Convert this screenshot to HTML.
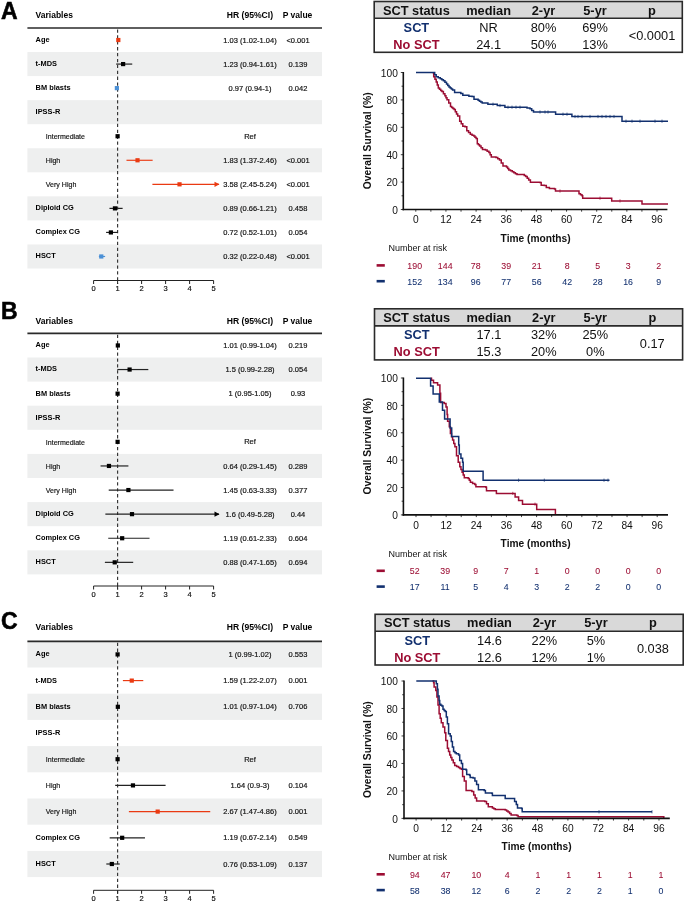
<!DOCTYPE html>
<html><head><meta charset="utf-8"><style>
html,body{margin:0;padding:0;background:#fff;width:685px;height:901px;overflow:hidden;position:relative;font-family:"Liberation Sans", sans-serif;}
</style></head><body>
<svg width="685" height="901" viewBox="0 0 685 901" style="position:absolute;left:0;top:0;will-change:transform;font-family:'Liberation Sans', sans-serif">
<rect width="685" height="901" fill="#fff"/>
<text x="0.90" y="19.10" font-size="23" font-weight="bold" text-anchor="start" fill="#000" stroke="#000" stroke-width="0.55">A</text>
<rect x="27.4" y="52.05" width="294.6" height="24.05" fill="#eeefef"/>
<rect x="27.4" y="100.15" width="294.6" height="24.05" fill="#eeefef"/>
<rect x="27.4" y="148.25" width="294.6" height="24.05" fill="#eeefef"/>
<rect x="27.4" y="196.35" width="294.6" height="24.05" fill="#eeefef"/>
<rect x="27.4" y="244.45" width="294.6" height="24.05" fill="#eeefef"/>
<text x="35.60" y="18.30" font-size="8.5" font-weight="bold" text-anchor="start" fill="#000" >Variables</text>
<text x="249.90" y="18.30" font-size="8.6" font-weight="bold" text-anchor="middle" fill="#000" >HR (95%CI)</text>
<text x="297.50" y="18.30" font-size="8.5" font-weight="bold" text-anchor="middle" fill="#000" >P value</text>
<line x1="27.4" y1="28.00" x2="322" y2="28.00" stroke="#2a2a2a" stroke-width="1.7"/>
<line x1="117.6" y1="29.40" x2="117.6" y2="284.00" stroke="#333" stroke-width="1.15" stroke-dasharray="3.3,2.6"/>
<text x="35.60" y="41.92" font-size="7.4" font-weight="bold" text-anchor="start" fill="#000" >Age</text>
<text x="250.00" y="42.62" font-size="7.5" font-weight="normal" text-anchor="middle" fill="#111" stroke="#111" stroke-width="0.18">1.03 (1.02-1.04)</text>
<text x="298.00" y="42.62" font-size="7.5" font-weight="normal" text-anchor="middle" fill="#111" stroke="#111" stroke-width="0.18">&lt;0.001</text>
<line x1="118.08" y1="40.02" x2="118.56" y2="40.02" stroke="#ea3a12" stroke-width="1.15"/>
<rect x="116.22" y="37.92" width="4.2" height="4.2" fill="#ea3a12"/>
<text x="35.60" y="65.98" font-size="7.4" font-weight="bold" text-anchor="start" fill="#000" >t-MDS</text>
<text x="250.00" y="66.67" font-size="7.5" font-weight="normal" text-anchor="middle" fill="#111" stroke="#111" stroke-width="0.18">1.23 (0.94-1.61)</text>
<text x="298.00" y="66.67" font-size="7.5" font-weight="normal" text-anchor="middle" fill="#111" stroke="#111" stroke-width="0.18">0.139</text>
<line x1="116.16" y1="64.08" x2="132.24" y2="64.08" stroke="#222" stroke-width="1.2"/>
<rect x="121.02" y="61.98" width="4.2" height="4.2" fill="#000"/>
<text x="35.60" y="90.03" font-size="7.4" font-weight="bold" text-anchor="start" fill="#000" >BM blasts</text>
<text x="250.00" y="90.72" font-size="7.5" font-weight="normal" text-anchor="middle" fill="#111" stroke="#111" stroke-width="0.18">0.97 (0.94-1)</text>
<text x="298.00" y="90.72" font-size="7.5" font-weight="normal" text-anchor="middle" fill="#111" stroke="#111" stroke-width="0.18">0.042</text>
<line x1="116.16" y1="88.12" x2="117.60" y2="88.12" stroke="#4b90d6" stroke-width="1.15"/>
<rect x="114.78" y="86.03" width="4.2" height="4.2" fill="#4b90d6"/>
<text x="35.60" y="114.08" font-size="7.4" font-weight="bold" text-anchor="start" fill="#000" >IPSS-R</text>
<text x="45.80" y="139.03" font-size="7.05" font-weight="normal" text-anchor="start" fill="#111" stroke="#111" stroke-width="0.15">Intermediate</text>
<text x="250.00" y="138.83" font-size="7.5" font-weight="normal" text-anchor="middle" fill="#111" stroke="#111" stroke-width="0.18">Ref</text>
<rect x="115.50" y="134.13" width="4.2" height="4.2" fill="#000"/>
<text x="45.80" y="163.08" font-size="7.05" font-weight="normal" text-anchor="start" fill="#111" stroke="#111" stroke-width="0.15">High</text>
<text x="250.00" y="162.88" font-size="7.5" font-weight="normal" text-anchor="middle" fill="#111" stroke="#111" stroke-width="0.18">1.83 (1.37-2.46)</text>
<text x="298.00" y="162.88" font-size="7.5" font-weight="normal" text-anchor="middle" fill="#111" stroke="#111" stroke-width="0.18">&lt;0.001</text>
<line x1="126.48" y1="160.28" x2="152.64" y2="160.28" stroke="#ea3a12" stroke-width="1.15"/>
<rect x="135.42" y="158.18" width="4.2" height="4.2" fill="#ea3a12"/>
<text x="45.80" y="187.13" font-size="7.05" font-weight="normal" text-anchor="start" fill="#111" stroke="#111" stroke-width="0.15">Very High</text>
<text x="250.00" y="186.93" font-size="7.5" font-weight="normal" text-anchor="middle" fill="#111" stroke="#111" stroke-width="0.18">3.58 (2.45-5.24)</text>
<text x="298.00" y="186.93" font-size="7.5" font-weight="normal" text-anchor="middle" fill="#111" stroke="#111" stroke-width="0.18">&lt;0.001</text>
<line x1="152.40" y1="184.33" x2="219.00" y2="184.33" stroke="#ea3a12" stroke-width="1.15"/>
<path d="M219.50,184.33 L214.50,181.73 L214.50,186.93 Z" fill="#ea3a12"/>
<rect x="177.42" y="182.23" width="4.2" height="4.2" fill="#ea3a12"/>
<text x="35.60" y="210.28" font-size="7.4" font-weight="bold" text-anchor="start" fill="#000" >Diploid CG</text>
<text x="250.00" y="210.97" font-size="7.5" font-weight="normal" text-anchor="middle" fill="#111" stroke="#111" stroke-width="0.18">0.89 (0.66-1.21)</text>
<text x="298.00" y="210.97" font-size="7.5" font-weight="normal" text-anchor="middle" fill="#111" stroke="#111" stroke-width="0.18">0.458</text>
<line x1="109.44" y1="208.38" x2="122.64" y2="208.38" stroke="#222" stroke-width="1.2"/>
<rect x="112.86" y="206.28" width="4.2" height="4.2" fill="#000"/>
<text x="35.60" y="234.33" font-size="7.4" font-weight="bold" text-anchor="start" fill="#000" >Complex CG</text>
<text x="250.00" y="235.03" font-size="7.5" font-weight="normal" text-anchor="middle" fill="#111" stroke="#111" stroke-width="0.18">0.72 (0.52-1.01)</text>
<text x="298.00" y="235.03" font-size="7.5" font-weight="normal" text-anchor="middle" fill="#111" stroke="#111" stroke-width="0.18">0.054</text>
<line x1="106.08" y1="232.43" x2="117.84" y2="232.43" stroke="#222" stroke-width="1.2"/>
<rect x="108.78" y="230.33" width="4.2" height="4.2" fill="#000"/>
<text x="35.60" y="258.38" font-size="7.4" font-weight="bold" text-anchor="start" fill="#000" >HSCT</text>
<text x="250.00" y="259.08" font-size="7.5" font-weight="normal" text-anchor="middle" fill="#111" stroke="#111" stroke-width="0.18">0.32 (0.22-0.48)</text>
<text x="298.00" y="259.08" font-size="7.5" font-weight="normal" text-anchor="middle" fill="#111" stroke="#111" stroke-width="0.18">&lt;0.001</text>
<line x1="98.88" y1="256.48" x2="105.12" y2="256.48" stroke="#4b90d6" stroke-width="1.15"/>
<rect x="99.18" y="254.38" width="4.2" height="4.2" fill="#4b90d6"/>
<line x1="93.60" y1="280.50" x2="213.60" y2="280.50" stroke="#222" stroke-width="1"/>
<line x1="93.60" y1="280.50" x2="93.60" y2="284.00" stroke="#222" stroke-width="1"/>
<text x="93.60" y="291.00" font-size="7.5" font-weight="normal" text-anchor="middle" fill="#111" stroke="#111" stroke-width="0.18">0</text>
<line x1="117.60" y1="280.50" x2="117.60" y2="284.00" stroke="#222" stroke-width="1"/>
<text x="117.60" y="291.00" font-size="7.5" font-weight="normal" text-anchor="middle" fill="#111" stroke="#111" stroke-width="0.18">1</text>
<line x1="141.60" y1="280.50" x2="141.60" y2="284.00" stroke="#222" stroke-width="1"/>
<text x="141.60" y="291.00" font-size="7.5" font-weight="normal" text-anchor="middle" fill="#111" stroke="#111" stroke-width="0.18">2</text>
<line x1="165.60" y1="280.50" x2="165.60" y2="284.00" stroke="#222" stroke-width="1"/>
<text x="165.60" y="291.00" font-size="7.5" font-weight="normal" text-anchor="middle" fill="#111" stroke="#111" stroke-width="0.18">3</text>
<line x1="189.60" y1="280.50" x2="189.60" y2="284.00" stroke="#222" stroke-width="1"/>
<text x="189.60" y="291.00" font-size="7.5" font-weight="normal" text-anchor="middle" fill="#111" stroke="#111" stroke-width="0.18">4</text>
<line x1="213.60" y1="280.50" x2="213.60" y2="284.00" stroke="#222" stroke-width="1"/>
<text x="213.60" y="291.00" font-size="7.5" font-weight="normal" text-anchor="middle" fill="#111" stroke="#111" stroke-width="0.18">5</text>
<text x="0.90" y="319.00" font-size="23" font-weight="bold" text-anchor="start" fill="#000" stroke="#000" stroke-width="0.55">B</text>
<rect x="27.4" y="357.50" width="294.6" height="24.10" fill="#eeefef"/>
<rect x="27.4" y="405.70" width="294.6" height="24.10" fill="#eeefef"/>
<rect x="27.4" y="453.90" width="294.6" height="24.10" fill="#eeefef"/>
<rect x="27.4" y="502.10" width="294.6" height="24.10" fill="#eeefef"/>
<rect x="27.4" y="550.30" width="294.6" height="24.10" fill="#eeefef"/>
<text x="35.60" y="323.60" font-size="8.5" font-weight="bold" text-anchor="start" fill="#000" >Variables</text>
<text x="249.90" y="323.60" font-size="8.6" font-weight="bold" text-anchor="middle" fill="#000" >HR (95%CI)</text>
<text x="297.50" y="323.60" font-size="8.5" font-weight="bold" text-anchor="middle" fill="#000" >P value</text>
<line x1="27.4" y1="333.40" x2="322" y2="333.40" stroke="#2a2a2a" stroke-width="1.7"/>
<line x1="117.6" y1="334.80" x2="117.6" y2="589.50" stroke="#333" stroke-width="1.15" stroke-dasharray="3.3,2.6"/>
<text x="35.60" y="347.35" font-size="7.4" font-weight="bold" text-anchor="start" fill="#000" >Age</text>
<text x="250.00" y="348.05" font-size="7.5" font-weight="normal" text-anchor="middle" fill="#111" stroke="#111" stroke-width="0.18">1.01 (0.99-1.04)</text>
<text x="298.00" y="348.05" font-size="7.5" font-weight="normal" text-anchor="middle" fill="#111" stroke="#111" stroke-width="0.18">0.219</text>
<line x1="117.36" y1="345.45" x2="118.56" y2="345.45" stroke="#222" stroke-width="1.2"/>
<rect x="115.74" y="343.35" width="4.2" height="4.2" fill="#000"/>
<text x="35.60" y="371.45" font-size="7.4" font-weight="bold" text-anchor="start" fill="#000" >t-MDS</text>
<text x="250.00" y="372.15" font-size="7.5" font-weight="normal" text-anchor="middle" fill="#111" stroke="#111" stroke-width="0.18">1.5 (0.99-2.28)</text>
<text x="298.00" y="372.15" font-size="7.5" font-weight="normal" text-anchor="middle" fill="#111" stroke="#111" stroke-width="0.18">0.054</text>
<line x1="117.36" y1="369.55" x2="148.32" y2="369.55" stroke="#222" stroke-width="1.2"/>
<rect x="127.50" y="367.45" width="4.2" height="4.2" fill="#000"/>
<text x="35.60" y="395.55" font-size="7.4" font-weight="bold" text-anchor="start" fill="#000" >BM blasts</text>
<text x="250.00" y="396.25" font-size="7.5" font-weight="normal" text-anchor="middle" fill="#111" stroke="#111" stroke-width="0.18">1 (0.95-1.05)</text>
<text x="298.00" y="396.25" font-size="7.5" font-weight="normal" text-anchor="middle" fill="#111" stroke="#111" stroke-width="0.18">0.93</text>
<line x1="116.40" y1="393.65" x2="118.80" y2="393.65" stroke="#222" stroke-width="1.2"/>
<rect x="115.50" y="391.55" width="4.2" height="4.2" fill="#000"/>
<text x="35.60" y="419.65" font-size="7.4" font-weight="bold" text-anchor="start" fill="#000" >IPSS-R</text>
<text x="45.80" y="444.65" font-size="7.05" font-weight="normal" text-anchor="start" fill="#111" stroke="#111" stroke-width="0.15">Intermediate</text>
<text x="250.00" y="444.45" font-size="7.5" font-weight="normal" text-anchor="middle" fill="#111" stroke="#111" stroke-width="0.18">Ref</text>
<rect x="115.50" y="439.75" width="4.2" height="4.2" fill="#000"/>
<text x="45.80" y="468.75" font-size="7.05" font-weight="normal" text-anchor="start" fill="#111" stroke="#111" stroke-width="0.15">High</text>
<text x="250.00" y="468.55" font-size="7.5" font-weight="normal" text-anchor="middle" fill="#111" stroke="#111" stroke-width="0.18">0.64 (0.29-1.45)</text>
<text x="298.00" y="468.55" font-size="7.5" font-weight="normal" text-anchor="middle" fill="#111" stroke="#111" stroke-width="0.18">0.289</text>
<line x1="100.56" y1="465.95" x2="128.40" y2="465.95" stroke="#222" stroke-width="1.2"/>
<rect x="106.86" y="463.85" width="4.2" height="4.2" fill="#000"/>
<text x="45.80" y="492.85" font-size="7.05" font-weight="normal" text-anchor="start" fill="#111" stroke="#111" stroke-width="0.15">Very High</text>
<text x="250.00" y="492.65" font-size="7.5" font-weight="normal" text-anchor="middle" fill="#111" stroke="#111" stroke-width="0.18">1.45 (0.63-3.33)</text>
<text x="298.00" y="492.65" font-size="7.5" font-weight="normal" text-anchor="middle" fill="#111" stroke="#111" stroke-width="0.18">0.377</text>
<line x1="108.72" y1="490.05" x2="173.52" y2="490.05" stroke="#222" stroke-width="1.2"/>
<rect x="126.30" y="487.95" width="4.2" height="4.2" fill="#000"/>
<text x="35.60" y="516.05" font-size="7.4" font-weight="bold" text-anchor="start" fill="#000" >Diploid CG</text>
<text x="250.00" y="516.75" font-size="7.5" font-weight="normal" text-anchor="middle" fill="#111" stroke="#111" stroke-width="0.18">1.6 (0.49-5.28)</text>
<text x="298.00" y="516.75" font-size="7.5" font-weight="normal" text-anchor="middle" fill="#111" stroke="#111" stroke-width="0.18">0.44</text>
<line x1="105.36" y1="514.15" x2="219.00" y2="514.15" stroke="#222" stroke-width="1.2"/>
<path d="M219.50,514.15 L214.50,511.55 L214.50,516.75 Z" fill="#000"/>
<rect x="129.90" y="512.05" width="4.2" height="4.2" fill="#000"/>
<text x="35.60" y="540.15" font-size="7.4" font-weight="bold" text-anchor="start" fill="#000" >Complex CG</text>
<text x="250.00" y="540.85" font-size="7.5" font-weight="normal" text-anchor="middle" fill="#111" stroke="#111" stroke-width="0.18">1.19 (0.61-2.33)</text>
<text x="298.00" y="540.85" font-size="7.5" font-weight="normal" text-anchor="middle" fill="#111" stroke="#111" stroke-width="0.18">0.604</text>
<line x1="108.24" y1="538.25" x2="149.52" y2="538.25" stroke="#222" stroke-width="1.2"/>
<rect x="120.06" y="536.15" width="4.2" height="4.2" fill="#000"/>
<text x="35.60" y="564.25" font-size="7.4" font-weight="bold" text-anchor="start" fill="#000" >HSCT</text>
<text x="250.00" y="564.95" font-size="7.5" font-weight="normal" text-anchor="middle" fill="#111" stroke="#111" stroke-width="0.18">0.88 (0.47-1.65)</text>
<text x="298.00" y="564.95" font-size="7.5" font-weight="normal" text-anchor="middle" fill="#111" stroke="#111" stroke-width="0.18">0.694</text>
<line x1="104.88" y1="562.35" x2="133.20" y2="562.35" stroke="#222" stroke-width="1.2"/>
<rect x="112.62" y="560.25" width="4.2" height="4.2" fill="#000"/>
<line x1="93.60" y1="586.00" x2="213.60" y2="586.00" stroke="#222" stroke-width="1"/>
<line x1="93.60" y1="586.00" x2="93.60" y2="589.50" stroke="#222" stroke-width="1"/>
<text x="93.60" y="596.50" font-size="7.5" font-weight="normal" text-anchor="middle" fill="#111" stroke="#111" stroke-width="0.18">0</text>
<line x1="117.60" y1="586.00" x2="117.60" y2="589.50" stroke="#222" stroke-width="1"/>
<text x="117.60" y="596.50" font-size="7.5" font-weight="normal" text-anchor="middle" fill="#111" stroke="#111" stroke-width="0.18">1</text>
<line x1="141.60" y1="586.00" x2="141.60" y2="589.50" stroke="#222" stroke-width="1"/>
<text x="141.60" y="596.50" font-size="7.5" font-weight="normal" text-anchor="middle" fill="#111" stroke="#111" stroke-width="0.18">2</text>
<line x1="165.60" y1="586.00" x2="165.60" y2="589.50" stroke="#222" stroke-width="1"/>
<text x="165.60" y="596.50" font-size="7.5" font-weight="normal" text-anchor="middle" fill="#111" stroke="#111" stroke-width="0.18">3</text>
<line x1="189.60" y1="586.00" x2="189.60" y2="589.50" stroke="#222" stroke-width="1"/>
<text x="189.60" y="596.50" font-size="7.5" font-weight="normal" text-anchor="middle" fill="#111" stroke="#111" stroke-width="0.18">4</text>
<line x1="213.60" y1="586.00" x2="213.60" y2="589.50" stroke="#222" stroke-width="1"/>
<text x="213.60" y="596.50" font-size="7.5" font-weight="normal" text-anchor="middle" fill="#111" stroke="#111" stroke-width="0.18">5</text>
<text x="0.90" y="628.70" font-size="23" font-weight="bold" text-anchor="start" fill="#000" stroke="#000" stroke-width="0.55">C</text>
<rect x="27.4" y="641.30" width="294.6" height="26.20" fill="#eeefef"/>
<rect x="27.4" y="693.70" width="294.6" height="26.20" fill="#eeefef"/>
<rect x="27.4" y="746.10" width="294.6" height="26.20" fill="#eeefef"/>
<rect x="27.4" y="798.50" width="294.6" height="26.20" fill="#eeefef"/>
<rect x="27.4" y="850.90" width="294.6" height="26.20" fill="#eeefef"/>
<text x="35.60" y="630.00" font-size="8.5" font-weight="bold" text-anchor="start" fill="#000" >Variables</text>
<text x="249.90" y="630.00" font-size="8.6" font-weight="bold" text-anchor="middle" fill="#000" >HR (95%CI)</text>
<text x="297.50" y="630.00" font-size="8.5" font-weight="bold" text-anchor="middle" fill="#000" >P value</text>
<line x1="27.4" y1="641.30" x2="322" y2="641.30" stroke="#2a2a2a" stroke-width="1.7"/>
<line x1="117.6" y1="642.70" x2="117.6" y2="893.80" stroke="#333" stroke-width="1.15" stroke-dasharray="3.3,2.6"/>
<text x="35.60" y="656.30" font-size="7.4" font-weight="bold" text-anchor="start" fill="#000" >Age</text>
<text x="250.00" y="657.00" font-size="7.5" font-weight="normal" text-anchor="middle" fill="#111" stroke="#111" stroke-width="0.18">1 (0.99-1.02)</text>
<text x="298.00" y="657.00" font-size="7.5" font-weight="normal" text-anchor="middle" fill="#111" stroke="#111" stroke-width="0.18">0.553</text>
<line x1="117.36" y1="654.40" x2="118.08" y2="654.40" stroke="#222" stroke-width="1.2"/>
<rect x="115.50" y="652.30" width="4.2" height="4.2" fill="#000"/>
<text x="35.60" y="682.50" font-size="7.4" font-weight="bold" text-anchor="start" fill="#000" >t-MDS</text>
<text x="250.00" y="683.20" font-size="7.5" font-weight="normal" text-anchor="middle" fill="#111" stroke="#111" stroke-width="0.18">1.59 (1.22-2.07)</text>
<text x="298.00" y="683.20" font-size="7.5" font-weight="normal" text-anchor="middle" fill="#111" stroke="#111" stroke-width="0.18">0.001</text>
<line x1="122.88" y1="680.60" x2="143.28" y2="680.60" stroke="#ea3a12" stroke-width="1.15"/>
<rect x="129.66" y="678.50" width="4.2" height="4.2" fill="#ea3a12"/>
<text x="35.60" y="708.70" font-size="7.4" font-weight="bold" text-anchor="start" fill="#000" >BM blasts</text>
<text x="250.00" y="709.40" font-size="7.5" font-weight="normal" text-anchor="middle" fill="#111" stroke="#111" stroke-width="0.18">1.01 (0.97-1.04)</text>
<text x="298.00" y="709.40" font-size="7.5" font-weight="normal" text-anchor="middle" fill="#111" stroke="#111" stroke-width="0.18">0.706</text>
<line x1="116.88" y1="706.80" x2="118.56" y2="706.80" stroke="#222" stroke-width="1.2"/>
<rect x="115.74" y="704.70" width="4.2" height="4.2" fill="#000"/>
<text x="35.60" y="734.90" font-size="7.4" font-weight="bold" text-anchor="start" fill="#000" >IPSS-R</text>
<text x="45.80" y="762.00" font-size="7.05" font-weight="normal" text-anchor="start" fill="#111" stroke="#111" stroke-width="0.15">Intermediate</text>
<text x="250.00" y="761.80" font-size="7.5" font-weight="normal" text-anchor="middle" fill="#111" stroke="#111" stroke-width="0.18">Ref</text>
<rect x="115.50" y="757.10" width="4.2" height="4.2" fill="#000"/>
<text x="45.80" y="788.20" font-size="7.05" font-weight="normal" text-anchor="start" fill="#111" stroke="#111" stroke-width="0.15">High</text>
<text x="250.00" y="788.00" font-size="7.5" font-weight="normal" text-anchor="middle" fill="#111" stroke="#111" stroke-width="0.18">1.64 (0.9-3)</text>
<text x="298.00" y="788.00" font-size="7.5" font-weight="normal" text-anchor="middle" fill="#111" stroke="#111" stroke-width="0.18">0.104</text>
<line x1="115.20" y1="785.40" x2="165.60" y2="785.40" stroke="#222" stroke-width="1.2"/>
<rect x="130.86" y="783.30" width="4.2" height="4.2" fill="#000"/>
<text x="45.80" y="814.40" font-size="7.05" font-weight="normal" text-anchor="start" fill="#111" stroke="#111" stroke-width="0.15">Very High</text>
<text x="250.00" y="814.20" font-size="7.5" font-weight="normal" text-anchor="middle" fill="#111" stroke="#111" stroke-width="0.18">2.67 (1.47-4.86)</text>
<text x="298.00" y="814.20" font-size="7.5" font-weight="normal" text-anchor="middle" fill="#111" stroke="#111" stroke-width="0.18">0.001</text>
<line x1="128.88" y1="811.60" x2="210.24" y2="811.60" stroke="#ea3a12" stroke-width="1.15"/>
<rect x="155.58" y="809.50" width="4.2" height="4.2" fill="#ea3a12"/>
<text x="35.60" y="839.70" font-size="7.4" font-weight="bold" text-anchor="start" fill="#000" >Complex CG</text>
<text x="250.00" y="840.40" font-size="7.5" font-weight="normal" text-anchor="middle" fill="#111" stroke="#111" stroke-width="0.18">1.19 (0.67-2.14)</text>
<text x="298.00" y="840.40" font-size="7.5" font-weight="normal" text-anchor="middle" fill="#111" stroke="#111" stroke-width="0.18">0.549</text>
<line x1="109.68" y1="837.80" x2="144.96" y2="837.80" stroke="#222" stroke-width="1.2"/>
<rect x="120.06" y="835.70" width="4.2" height="4.2" fill="#000"/>
<text x="35.60" y="865.90" font-size="7.4" font-weight="bold" text-anchor="start" fill="#000" >HSCT</text>
<text x="250.00" y="866.60" font-size="7.5" font-weight="normal" text-anchor="middle" fill="#111" stroke="#111" stroke-width="0.18">0.76 (0.53-1.09)</text>
<text x="298.00" y="866.60" font-size="7.5" font-weight="normal" text-anchor="middle" fill="#111" stroke="#111" stroke-width="0.18">0.137</text>
<line x1="106.32" y1="864.00" x2="119.76" y2="864.00" stroke="#222" stroke-width="1.2"/>
<rect x="109.74" y="861.90" width="4.2" height="4.2" fill="#000"/>
<line x1="93.60" y1="890.30" x2="213.60" y2="890.30" stroke="#222" stroke-width="1"/>
<line x1="93.60" y1="890.30" x2="93.60" y2="893.80" stroke="#222" stroke-width="1"/>
<text x="93.60" y="900.80" font-size="7.5" font-weight="normal" text-anchor="middle" fill="#111" stroke="#111" stroke-width="0.18">0</text>
<line x1="117.60" y1="890.30" x2="117.60" y2="893.80" stroke="#222" stroke-width="1"/>
<text x="117.60" y="900.80" font-size="7.5" font-weight="normal" text-anchor="middle" fill="#111" stroke="#111" stroke-width="0.18">1</text>
<line x1="141.60" y1="890.30" x2="141.60" y2="893.80" stroke="#222" stroke-width="1"/>
<text x="141.60" y="900.80" font-size="7.5" font-weight="normal" text-anchor="middle" fill="#111" stroke="#111" stroke-width="0.18">2</text>
<line x1="165.60" y1="890.30" x2="165.60" y2="893.80" stroke="#222" stroke-width="1"/>
<text x="165.60" y="900.80" font-size="7.5" font-weight="normal" text-anchor="middle" fill="#111" stroke="#111" stroke-width="0.18">3</text>
<line x1="189.60" y1="890.30" x2="189.60" y2="893.80" stroke="#222" stroke-width="1"/>
<text x="189.60" y="900.80" font-size="7.5" font-weight="normal" text-anchor="middle" fill="#111" stroke="#111" stroke-width="0.18">4</text>
<line x1="213.60" y1="890.30" x2="213.60" y2="893.80" stroke="#222" stroke-width="1"/>
<text x="213.60" y="900.80" font-size="7.5" font-weight="normal" text-anchor="middle" fill="#111" stroke="#111" stroke-width="0.18">5</text>
<rect x="374.20" y="1.50" width="308.10" height="16.70" fill="#d9d9d9"/>
<rect x="374.20" y="1.50" width="308.10" height="50.80" fill="none" stroke="#2a2a2a" stroke-width="1.6"/>
<line x1="374.20" y1="18.20" x2="682.30" y2="18.20" stroke="#2a2a2a" stroke-width="1.6"/>
<text x="416.40" y="14.50" font-size="12.8" font-weight="bold" text-anchor="middle" fill="#111" >SCT status</text>
<text x="488.60" y="14.50" font-size="12.8" font-weight="bold" text-anchor="middle" fill="#111" >median</text>
<text x="543.50" y="14.50" font-size="12.8" font-weight="bold" text-anchor="middle" fill="#111" >2-yr</text>
<text x="595.00" y="14.50" font-size="12.8" font-weight="bold" text-anchor="middle" fill="#111" >5-yr</text>
<text x="652.00" y="14.50" font-size="12.8" font-weight="bold" text-anchor="middle" fill="#111" >p</text>
<text x="416.40" y="31.80" font-size="12.8" font-weight="bold" text-anchor="middle" fill="#12306f" >SCT</text>
<text x="416.40" y="48.90" font-size="12.8" font-weight="bold" text-anchor="middle" fill="#9c0d33" >No SCT</text>
<text x="488.60" y="31.80" font-size="12.8" font-weight="normal" text-anchor="middle" fill="#111" >NR</text>
<text x="488.60" y="48.90" font-size="12.8" font-weight="normal" text-anchor="middle" fill="#111" >24.1</text>
<text x="543.50" y="31.80" font-size="12.8" font-weight="normal" text-anchor="middle" fill="#111" >80%</text>
<text x="543.50" y="48.90" font-size="12.8" font-weight="normal" text-anchor="middle" fill="#111" >50%</text>
<text x="595.00" y="31.80" font-size="12.8" font-weight="normal" text-anchor="middle" fill="#111" >69%</text>
<text x="595.00" y="48.90" font-size="12.8" font-weight="normal" text-anchor="middle" fill="#111" >13%</text>
<text x="652.00" y="40.30" font-size="12.8" font-weight="normal" text-anchor="middle" fill="#111" >&lt;0.0001</text>
<rect x="374.50" y="308.80" width="308.10" height="17.10" fill="#d9d9d9"/>
<rect x="374.50" y="308.80" width="308.10" height="51.10" fill="none" stroke="#2a2a2a" stroke-width="1.6"/>
<line x1="374.50" y1="325.90" x2="682.60" y2="325.90" stroke="#2a2a2a" stroke-width="1.6"/>
<text x="416.70" y="321.80" font-size="12.8" font-weight="bold" text-anchor="middle" fill="#111" >SCT status</text>
<text x="488.90" y="321.80" font-size="12.8" font-weight="bold" text-anchor="middle" fill="#111" >median</text>
<text x="543.80" y="321.80" font-size="12.8" font-weight="bold" text-anchor="middle" fill="#111" >2-yr</text>
<text x="595.30" y="321.80" font-size="12.8" font-weight="bold" text-anchor="middle" fill="#111" >5-yr</text>
<text x="652.30" y="321.80" font-size="12.8" font-weight="bold" text-anchor="middle" fill="#111" >p</text>
<text x="416.70" y="339.10" font-size="12.8" font-weight="bold" text-anchor="middle" fill="#12306f" >SCT</text>
<text x="416.70" y="356.20" font-size="12.8" font-weight="bold" text-anchor="middle" fill="#9c0d33" >No SCT</text>
<text x="488.90" y="339.10" font-size="12.8" font-weight="normal" text-anchor="middle" fill="#111" >17.1</text>
<text x="488.90" y="356.20" font-size="12.8" font-weight="normal" text-anchor="middle" fill="#111" >15.3</text>
<text x="543.80" y="339.10" font-size="12.8" font-weight="normal" text-anchor="middle" fill="#111" >32%</text>
<text x="543.80" y="356.20" font-size="12.8" font-weight="normal" text-anchor="middle" fill="#111" >20%</text>
<text x="595.30" y="339.10" font-size="12.8" font-weight="normal" text-anchor="middle" fill="#111" >25%</text>
<text x="595.30" y="356.20" font-size="12.8" font-weight="normal" text-anchor="middle" fill="#111" >0%</text>
<text x="652.30" y="347.60" font-size="12.8" font-weight="normal" text-anchor="middle" fill="#111" >0.17</text>
<rect x="375.10" y="614.30" width="308.10" height="16.90" fill="#d9d9d9"/>
<rect x="375.10" y="614.30" width="308.10" height="50.70" fill="none" stroke="#2a2a2a" stroke-width="1.6"/>
<line x1="375.10" y1="631.20" x2="683.20" y2="631.20" stroke="#2a2a2a" stroke-width="1.6"/>
<text x="417.30" y="627.30" font-size="12.8" font-weight="bold" text-anchor="middle" fill="#111" >SCT status</text>
<text x="489.50" y="627.30" font-size="12.8" font-weight="bold" text-anchor="middle" fill="#111" >median</text>
<text x="544.40" y="627.30" font-size="12.8" font-weight="bold" text-anchor="middle" fill="#111" >2-yr</text>
<text x="595.90" y="627.30" font-size="12.8" font-weight="bold" text-anchor="middle" fill="#111" >5-yr</text>
<text x="652.90" y="627.30" font-size="12.8" font-weight="bold" text-anchor="middle" fill="#111" >p</text>
<text x="417.30" y="644.60" font-size="12.8" font-weight="bold" text-anchor="middle" fill="#12306f" >SCT</text>
<text x="417.30" y="661.70" font-size="12.8" font-weight="bold" text-anchor="middle" fill="#9c0d33" >No SCT</text>
<text x="489.50" y="644.60" font-size="12.8" font-weight="normal" text-anchor="middle" fill="#111" >14.6</text>
<text x="489.50" y="661.70" font-size="12.8" font-weight="normal" text-anchor="middle" fill="#111" >12.6</text>
<text x="544.40" y="644.60" font-size="12.8" font-weight="normal" text-anchor="middle" fill="#111" >22%</text>
<text x="544.40" y="661.70" font-size="12.8" font-weight="normal" text-anchor="middle" fill="#111" >12%</text>
<text x="595.90" y="644.60" font-size="12.8" font-weight="normal" text-anchor="middle" fill="#111" >5%</text>
<text x="595.90" y="661.70" font-size="12.8" font-weight="normal" text-anchor="middle" fill="#111" >1%</text>
<text x="652.90" y="653.10" font-size="12.8" font-weight="normal" text-anchor="middle" fill="#111" >0.038</text>
<path d="M432.70,73.00 L433.70,73.00 L433.70,76.80 L434.95,76.80 L434.95,79.35 L436.20,79.35 L436.20,81.90 L437.25,81.90 L437.25,84.95 L438.30,84.95 L438.30,88.00 L439.50,88.00 L439.50,89.20 L440.70,89.20 L440.70,90.40 L441.90,90.40 L441.90,91.60 L443.40,91.60 L443.40,93.65 L444.90,93.65 L444.90,95.70 L445.95,95.70 L445.95,97.70 L447.00,97.70 L447.00,99.70 L448.75,99.70 L448.75,103.05 L450.50,103.05 L450.50,106.40 L451.70,106.40 L451.70,107.43 L452.90,107.43 L452.90,108.47 L454.10,108.47 L454.10,109.50 L455.30,109.50 L455.30,111.70 L456.50,111.70 L456.50,113.90 L457.70,113.90 L457.70,116.10 L459.70,116.10 L459.70,121.20 L461.25,121.20 L461.25,123.75 L462.80,123.75 L462.80,126.30 L465.00,126.30 L465.00,126.80 L466.80,126.80 L466.80,130.80 L468.55,130.80 L468.55,132.55 L470.30,132.55 L470.30,134.30 L472.05,134.30 L472.05,135.20 L473.80,135.20 L473.80,136.10 L474.95,136.10 L474.95,137.25 L476.10,137.25 L476.10,138.40 L477.30,138.40 L477.30,143.70 L478.45,143.70 L478.45,144.85 L479.60,144.85 L479.60,146.00 L481.05,146.00 L481.05,147.75 L482.50,147.75 L482.50,149.50 L485.40,149.50 L485.40,150.10 L487.15,150.10 L487.15,151.25 L488.90,151.25 L488.90,152.40 L490.10,152.40 L490.10,154.75 L491.30,154.75 L491.30,157.10 L496.00,157.10 L496.00,157.50 L497.75,157.50 L497.75,158.75 L499.50,158.75 L499.50,160.00 L501.25,160.00 L501.25,162.95 L503.00,162.95 L503.00,165.90 L506.50,165.90 L506.50,167.00 L507.65,167.00 L507.65,168.50 L508.80,168.50 L508.80,170.00 L510.55,170.00 L510.55,170.85 L512.30,170.85 L512.30,171.70 L513.87,171.70 L513.87,172.67 L515.43,172.67 L515.43,173.63 L517.00,173.63 L517.00,174.60 L522.80,174.60 L524.25,174.60 L524.25,175.50 L525.70,175.50 L525.70,176.40 L527.20,176.40 L527.20,178.15 L528.70,178.15 L528.70,179.90 L530.40,179.90 L530.40,182.20 L540.00,182.20 L540.00,182.50 L541.20,182.50 L541.20,185.20 L544.30,185.20 L544.30,185.60 L546.30,185.60 L546.30,187.60 L549.40,187.60 L549.40,188.60 L554.50,188.60 L554.50,189.00 L555.50,189.00 L555.50,191.00 L577.40,191.00 L579.00,191.00 L579.00,193.80 L580.50,193.80 L580.50,194.80 L582.00,194.80 L582.00,195.80 L582.70,195.80 L582.70,198.20 L611.70,198.20 L611.70,200.90 L642.00,200.90 L642.00,204.00 L668.00,204.00" fill="none" stroke="#9c0d33" stroke-width="1.5" stroke-linejoin="miter"/>
<line x1="560.00" y1="189.40" x2="560.00" y2="192.60" stroke="#9c0d33" stroke-width="0.7"/>
<line x1="600.00" y1="196.60" x2="600.00" y2="199.80" stroke="#9c0d33" stroke-width="0.7"/>
<line x1="620.00" y1="199.30" x2="620.00" y2="202.50" stroke="#9c0d33" stroke-width="0.7"/>
<path d="M416.00,72.60 L433.20,72.60 L434.70,72.60 L434.70,74.70 L436.20,74.70 L436.20,76.80 L438.25,76.80 L438.25,77.80 L440.30,77.80 L440.30,78.80 L441.85,78.80 L441.85,79.80 L443.40,79.80 L443.40,80.80 L444.95,80.80 L444.95,82.35 L446.50,82.35 L446.50,83.90 L447.75,83.90 L447.75,85.45 L449.00,85.45 L449.00,87.00 L450.20,87.00 L450.20,88.00 L451.40,88.00 L451.40,89.00 L452.60,89.00 L452.60,90.00 L454.60,90.00 L454.60,92.40 L458.70,92.40 L458.70,92.60 L460.80,92.60 L460.80,93.60 L462.80,93.60 L462.80,95.30 L468.90,95.30 L468.90,96.20 L472.00,96.20 L472.00,96.50 L474.00,96.50 L474.00,99.20 L478.10,99.20 L478.10,100.30 L479.47,100.30 L479.47,101.20 L480.83,101.20 L480.83,102.10 L482.20,102.10 L482.20,103.00 L486.80,103.00 L486.80,103.10 L487.90,103.10 L487.90,104.20 L496.10,104.20 L497.30,104.20 L497.30,105.50 L503.70,105.50 L504.90,105.50 L504.90,107.20 L525.30,107.20 L527.00,107.20 L527.00,108.10 L530.00,108.10 L530.00,108.70 L531.70,108.70 L531.70,110.40 L533.50,110.40 L533.50,112.00 L555.60,112.00 L555.60,114.20 L571.90,114.20 L571.90,116.50 L622.00,116.50 L622.00,121.20 L668.00,121.20" fill="none" stroke="#12306f" stroke-width="1.5" stroke-linejoin="miter"/>
<line x1="540.00" y1="110.40" x2="540.00" y2="113.60" stroke="#12306f" stroke-width="0.7"/>
<line x1="545.00" y1="110.40" x2="545.00" y2="113.60" stroke="#12306f" stroke-width="0.7"/>
<line x1="548.00" y1="110.40" x2="548.00" y2="113.60" stroke="#12306f" stroke-width="0.7"/>
<line x1="563.00" y1="112.60" x2="563.00" y2="115.80" stroke="#12306f" stroke-width="0.7"/>
<line x1="567.00" y1="112.60" x2="567.00" y2="115.80" stroke="#12306f" stroke-width="0.7"/>
<line x1="575.00" y1="114.90" x2="575.00" y2="118.10" stroke="#12306f" stroke-width="0.7"/>
<line x1="578.00" y1="114.90" x2="578.00" y2="118.10" stroke="#12306f" stroke-width="0.7"/>
<line x1="582.00" y1="114.90" x2="582.00" y2="118.10" stroke="#12306f" stroke-width="0.7"/>
<line x1="590.00" y1="114.90" x2="590.00" y2="118.10" stroke="#12306f" stroke-width="0.7"/>
<line x1="598.00" y1="114.90" x2="598.00" y2="118.10" stroke="#12306f" stroke-width="0.7"/>
<line x1="602.00" y1="114.90" x2="602.00" y2="118.10" stroke="#12306f" stroke-width="0.7"/>
<line x1="606.00" y1="114.90" x2="606.00" y2="118.10" stroke="#12306f" stroke-width="0.7"/>
<line x1="610.00" y1="114.90" x2="610.00" y2="118.10" stroke="#12306f" stroke-width="0.7"/>
<line x1="614.00" y1="114.90" x2="614.00" y2="118.10" stroke="#12306f" stroke-width="0.7"/>
<line x1="626.00" y1="119.60" x2="626.00" y2="122.80" stroke="#12306f" stroke-width="0.7"/>
<line x1="632.00" y1="119.60" x2="632.00" y2="122.80" stroke="#12306f" stroke-width="0.7"/>
<line x1="640.00" y1="119.60" x2="640.00" y2="122.80" stroke="#12306f" stroke-width="0.7"/>
<line x1="655.00" y1="119.60" x2="655.00" y2="122.80" stroke="#12306f" stroke-width="0.7"/>
<line x1="662.00" y1="119.60" x2="662.00" y2="122.80" stroke="#12306f" stroke-width="0.7"/>
<line x1="493.00" y1="102.60" x2="493.00" y2="105.80" stroke="#12306f" stroke-width="0.7"/>
<line x1="500.00" y1="103.90" x2="500.00" y2="107.10" stroke="#12306f" stroke-width="0.7"/>
<line x1="508.00" y1="105.60" x2="508.00" y2="108.80" stroke="#12306f" stroke-width="0.7"/>
<line x1="512.00" y1="105.60" x2="512.00" y2="108.80" stroke="#12306f" stroke-width="0.7"/>
<line x1="516.00" y1="105.60" x2="516.00" y2="108.80" stroke="#12306f" stroke-width="0.7"/>
<line x1="520.00" y1="105.60" x2="520.00" y2="108.80" stroke="#12306f" stroke-width="0.7"/>
<line x1="403.30" y1="72.00" x2="403.30" y2="210.30" stroke="#111" stroke-width="1.6"/>
<line x1="402.50" y1="209.50" x2="667.40" y2="209.50" stroke="#111" stroke-width="1.6"/>
<line x1="400.80" y1="72.50" x2="403.30" y2="72.50" stroke="#111" stroke-width="0.8"/>
<line x1="401.50" y1="86.20" x2="403.30" y2="86.20" stroke="#111" stroke-width="0.8"/>
<line x1="400.80" y1="99.90" x2="403.30" y2="99.90" stroke="#111" stroke-width="0.8"/>
<line x1="401.50" y1="113.60" x2="403.30" y2="113.60" stroke="#111" stroke-width="0.8"/>
<line x1="400.80" y1="127.30" x2="403.30" y2="127.30" stroke="#111" stroke-width="0.8"/>
<line x1="401.50" y1="141.00" x2="403.30" y2="141.00" stroke="#111" stroke-width="0.8"/>
<line x1="400.80" y1="154.70" x2="403.30" y2="154.70" stroke="#111" stroke-width="0.8"/>
<line x1="401.50" y1="168.40" x2="403.30" y2="168.40" stroke="#111" stroke-width="0.8"/>
<line x1="400.80" y1="182.10" x2="403.30" y2="182.10" stroke="#111" stroke-width="0.8"/>
<line x1="401.50" y1="195.80" x2="403.30" y2="195.80" stroke="#111" stroke-width="0.8"/>
<line x1="400.80" y1="209.50" x2="403.30" y2="209.50" stroke="#111" stroke-width="0.8"/>
<text x="397.80" y="76.70" font-size="10.2" font-weight="normal" text-anchor="end" fill="#111" >100</text>
<text x="397.80" y="104.10" font-size="10.2" font-weight="normal" text-anchor="end" fill="#111" >80</text>
<text x="397.80" y="131.50" font-size="10.2" font-weight="normal" text-anchor="end" fill="#111" >60</text>
<text x="397.80" y="158.90" font-size="10.2" font-weight="normal" text-anchor="end" fill="#111" >40</text>
<text x="397.80" y="186.30" font-size="10.2" font-weight="normal" text-anchor="end" fill="#111" >20</text>
<text x="397.80" y="213.70" font-size="10.2" font-weight="normal" text-anchor="end" fill="#111" >0</text>
<line x1="415.80" y1="209.50" x2="415.80" y2="211.70" stroke="#111" stroke-width="0.8"/>
<line x1="430.88" y1="209.50" x2="430.88" y2="211.70" stroke="#111" stroke-width="0.8"/>
<line x1="445.95" y1="209.50" x2="445.95" y2="211.70" stroke="#111" stroke-width="0.8"/>
<line x1="461.02" y1="209.50" x2="461.02" y2="211.70" stroke="#111" stroke-width="0.8"/>
<line x1="476.10" y1="209.50" x2="476.10" y2="211.70" stroke="#111" stroke-width="0.8"/>
<line x1="491.18" y1="209.50" x2="491.18" y2="211.70" stroke="#111" stroke-width="0.8"/>
<line x1="506.25" y1="209.50" x2="506.25" y2="211.70" stroke="#111" stroke-width="0.8"/>
<line x1="521.33" y1="209.50" x2="521.33" y2="211.70" stroke="#111" stroke-width="0.8"/>
<line x1="536.40" y1="209.50" x2="536.40" y2="211.70" stroke="#111" stroke-width="0.8"/>
<line x1="551.48" y1="209.50" x2="551.48" y2="211.70" stroke="#111" stroke-width="0.8"/>
<line x1="566.55" y1="209.50" x2="566.55" y2="211.70" stroke="#111" stroke-width="0.8"/>
<line x1="581.62" y1="209.50" x2="581.62" y2="211.70" stroke="#111" stroke-width="0.8"/>
<line x1="596.70" y1="209.50" x2="596.70" y2="211.70" stroke="#111" stroke-width="0.8"/>
<line x1="611.77" y1="209.50" x2="611.77" y2="211.70" stroke="#111" stroke-width="0.8"/>
<line x1="626.85" y1="209.50" x2="626.85" y2="211.70" stroke="#111" stroke-width="0.8"/>
<line x1="641.92" y1="209.50" x2="641.92" y2="211.70" stroke="#111" stroke-width="0.8"/>
<line x1="657.00" y1="209.50" x2="657.00" y2="211.70" stroke="#111" stroke-width="0.8"/>
<text x="415.80" y="223.40" font-size="10.2" font-weight="normal" text-anchor="middle" fill="#111" >0</text>
<text x="445.95" y="223.40" font-size="10.2" font-weight="normal" text-anchor="middle" fill="#111" >12</text>
<text x="476.10" y="223.40" font-size="10.2" font-weight="normal" text-anchor="middle" fill="#111" >24</text>
<text x="506.25" y="223.40" font-size="10.2" font-weight="normal" text-anchor="middle" fill="#111" >36</text>
<text x="536.40" y="223.40" font-size="10.2" font-weight="normal" text-anchor="middle" fill="#111" >48</text>
<text x="566.55" y="223.40" font-size="10.2" font-weight="normal" text-anchor="middle" fill="#111" >60</text>
<text x="596.70" y="223.40" font-size="10.2" font-weight="normal" text-anchor="middle" fill="#111" >72</text>
<text x="626.85" y="223.40" font-size="10.2" font-weight="normal" text-anchor="middle" fill="#111" >84</text>
<text x="657.00" y="223.40" font-size="10.2" font-weight="normal" text-anchor="middle" fill="#111" >96</text>
<text x="535.60" y="241.50" font-size="10.2" font-weight="bold" text-anchor="middle" fill="#111" >Time (months)</text>
<text x="0" y="0" font-size="10.3" font-weight="bold" text-anchor="middle" fill="#111" transform="translate(371.0,140.80) rotate(-90)">Overall Survival (%)</text>
<text x="388.50" y="251.10" font-size="9" font-weight="normal" text-anchor="start" fill="#111" >Number at risk</text>
<rect x="376.6" y="264.10" width="8.2" height="2.6" fill="#9c0d33"/>
<rect x="376.6" y="279.90" width="8.2" height="2.6" fill="#12306f"/>
<text x="414.70" y="268.90" font-size="8.8" font-weight="normal" text-anchor="middle" fill="#9c0d33" stroke="#9c0d33" stroke-width="0.06">190</text>
<text x="414.70" y="284.70" font-size="8.8" font-weight="normal" text-anchor="middle" fill="#12306f" stroke="#12306f" stroke-width="0.06">152</text>
<text x="445.19" y="268.90" font-size="8.8" font-weight="normal" text-anchor="middle" fill="#9c0d33" stroke="#9c0d33" stroke-width="0.06">144</text>
<text x="445.19" y="284.70" font-size="8.8" font-weight="normal" text-anchor="middle" fill="#12306f" stroke="#12306f" stroke-width="0.06">134</text>
<text x="475.68" y="268.90" font-size="8.8" font-weight="normal" text-anchor="middle" fill="#9c0d33" stroke="#9c0d33" stroke-width="0.06">78</text>
<text x="475.68" y="284.70" font-size="8.8" font-weight="normal" text-anchor="middle" fill="#12306f" stroke="#12306f" stroke-width="0.06">96</text>
<text x="506.17" y="268.90" font-size="8.8" font-weight="normal" text-anchor="middle" fill="#9c0d33" stroke="#9c0d33" stroke-width="0.06">39</text>
<text x="506.17" y="284.70" font-size="8.8" font-weight="normal" text-anchor="middle" fill="#12306f" stroke="#12306f" stroke-width="0.06">77</text>
<text x="536.66" y="268.90" font-size="8.8" font-weight="normal" text-anchor="middle" fill="#9c0d33" stroke="#9c0d33" stroke-width="0.06">21</text>
<text x="536.66" y="284.70" font-size="8.8" font-weight="normal" text-anchor="middle" fill="#12306f" stroke="#12306f" stroke-width="0.06">56</text>
<text x="567.15" y="268.90" font-size="8.8" font-weight="normal" text-anchor="middle" fill="#9c0d33" stroke="#9c0d33" stroke-width="0.06">8</text>
<text x="567.15" y="284.70" font-size="8.8" font-weight="normal" text-anchor="middle" fill="#12306f" stroke="#12306f" stroke-width="0.06">42</text>
<text x="597.64" y="268.90" font-size="8.8" font-weight="normal" text-anchor="middle" fill="#9c0d33" stroke="#9c0d33" stroke-width="0.06">5</text>
<text x="597.64" y="284.70" font-size="8.8" font-weight="normal" text-anchor="middle" fill="#12306f" stroke="#12306f" stroke-width="0.06">28</text>
<text x="628.13" y="268.90" font-size="8.8" font-weight="normal" text-anchor="middle" fill="#9c0d33" stroke="#9c0d33" stroke-width="0.06">3</text>
<text x="628.13" y="284.70" font-size="8.8" font-weight="normal" text-anchor="middle" fill="#12306f" stroke="#12306f" stroke-width="0.06">16</text>
<text x="658.62" y="268.90" font-size="8.8" font-weight="normal" text-anchor="middle" fill="#9c0d33" stroke="#9c0d33" stroke-width="0.06">2</text>
<text x="658.62" y="284.70" font-size="8.8" font-weight="normal" text-anchor="middle" fill="#12306f" stroke="#12306f" stroke-width="0.06">9</text>
<path d="M430.60,378.30 L431.50,378.30 L431.50,380.20 L433.50,380.20 L433.50,382.80 L437.60,382.80 L437.60,385.10 L439.10,385.10 L439.90,385.10 L439.90,393.30 L440.60,393.30 L440.60,402.40 L444.30,402.40 L444.30,403.50 L446.00,403.50 L446.00,406.90 L447.10,406.90 L447.10,414.60 L447.60,414.60 L447.60,421.30 L449.30,421.30 L449.30,426.80 L450.40,426.80 L450.40,433.50 L451.50,433.50 L451.50,436.80 L452.60,436.80 L452.60,440.10 L453.75,440.10 L453.75,443.45 L454.90,443.45 L454.90,446.80 L456.50,446.80 L456.50,455.70 L458.20,455.70 L458.20,462.30 L459.80,462.30 L459.80,466.80 L460.95,466.80 L460.95,469.55 L462.10,469.55 L462.10,472.30 L463.20,472.30 L463.20,475.05 L464.30,475.05 L464.30,477.80 L468.20,477.80 L468.20,478.40 L469.30,478.40 L469.30,480.35 L470.40,480.35 L470.40,482.30 L472.60,482.30 L472.60,483.40 L474.80,483.40 L474.80,484.50 L475.90,484.50 L475.90,486.70 L485.90,486.70 L485.90,487.30 L486.50,487.30 L486.50,490.70 L496.40,490.70 L496.40,493.40 L515.10,493.40 L515.10,497.10 L518.30,497.10 L518.60,497.10 L518.60,500.60 L522.30,500.60 L522.50,500.60 L522.50,504.20 L536.70,504.20 L536.70,509.50 L555.40,509.50 L555.40,514.00" fill="none" stroke="#9c0d33" stroke-width="1.5" stroke-linejoin="miter"/>
<line x1="512.80" y1="491.80" x2="512.80" y2="495.00" stroke="#9c0d33" stroke-width="0.7"/>
<line x1="535.00" y1="502.60" x2="535.00" y2="505.80" stroke="#9c0d33" stroke-width="0.7"/>
<path d="M416.00,378.30 L430.60,378.30 L430.60,386.00 L433.10,386.00 L433.10,393.90 L439.30,393.90 L439.30,401.90 L442.10,401.90 L442.50,401.90 L442.50,410.20 L444.30,410.20 L444.60,410.20 L444.60,419.10 L449.90,419.10 L450.10,419.10 L450.10,428.00 L451.50,428.00 L451.70,428.00 L451.70,436.60 L458.20,436.60 L458.70,436.60 L458.70,445.10 L459.30,445.10 L459.30,454.00 L460.95,454.00 L460.95,458.15 L462.60,458.15 L462.60,462.30 L463.20,462.30 L463.20,471.20 L483.10,471.20 L483.10,480.20 L609.50,480.20" fill="none" stroke="#12306f" stroke-width="1.5" stroke-linejoin="miter"/>
<line x1="518.60" y1="478.60" x2="518.60" y2="481.80" stroke="#12306f" stroke-width="0.7"/>
<line x1="544.30" y1="478.60" x2="544.30" y2="481.80" stroke="#12306f" stroke-width="0.7"/>
<line x1="604.00" y1="478.60" x2="604.00" y2="481.80" stroke="#12306f" stroke-width="0.7"/>
<line x1="608.00" y1="478.60" x2="608.00" y2="481.80" stroke="#12306f" stroke-width="0.7"/>
<line x1="403.40" y1="377.50" x2="403.40" y2="515.70" stroke="#111" stroke-width="1.6"/>
<line x1="402.60" y1="514.90" x2="668.00" y2="514.90" stroke="#111" stroke-width="1.6"/>
<line x1="400.90" y1="378.00" x2="403.40" y2="378.00" stroke="#111" stroke-width="0.8"/>
<line x1="401.60" y1="391.69" x2="403.40" y2="391.69" stroke="#111" stroke-width="0.8"/>
<line x1="400.90" y1="405.38" x2="403.40" y2="405.38" stroke="#111" stroke-width="0.8"/>
<line x1="401.60" y1="419.07" x2="403.40" y2="419.07" stroke="#111" stroke-width="0.8"/>
<line x1="400.90" y1="432.76" x2="403.40" y2="432.76" stroke="#111" stroke-width="0.8"/>
<line x1="401.60" y1="446.45" x2="403.40" y2="446.45" stroke="#111" stroke-width="0.8"/>
<line x1="400.90" y1="460.14" x2="403.40" y2="460.14" stroke="#111" stroke-width="0.8"/>
<line x1="401.60" y1="473.83" x2="403.40" y2="473.83" stroke="#111" stroke-width="0.8"/>
<line x1="400.90" y1="487.52" x2="403.40" y2="487.52" stroke="#111" stroke-width="0.8"/>
<line x1="401.60" y1="501.21" x2="403.40" y2="501.21" stroke="#111" stroke-width="0.8"/>
<line x1="400.90" y1="514.90" x2="403.40" y2="514.90" stroke="#111" stroke-width="0.8"/>
<text x="397.80" y="382.20" font-size="10.2" font-weight="normal" text-anchor="end" fill="#111" >100</text>
<text x="397.80" y="409.58" font-size="10.2" font-weight="normal" text-anchor="end" fill="#111" >80</text>
<text x="397.80" y="436.96" font-size="10.2" font-weight="normal" text-anchor="end" fill="#111" >60</text>
<text x="397.80" y="464.34" font-size="10.2" font-weight="normal" text-anchor="end" fill="#111" >40</text>
<text x="397.80" y="491.72" font-size="10.2" font-weight="normal" text-anchor="end" fill="#111" >20</text>
<text x="397.80" y="519.10" font-size="10.2" font-weight="normal" text-anchor="end" fill="#111" >0</text>
<line x1="416.00" y1="514.90" x2="416.00" y2="517.10" stroke="#111" stroke-width="0.8"/>
<line x1="431.07" y1="514.90" x2="431.07" y2="517.10" stroke="#111" stroke-width="0.8"/>
<line x1="446.15" y1="514.90" x2="446.15" y2="517.10" stroke="#111" stroke-width="0.8"/>
<line x1="461.23" y1="514.90" x2="461.23" y2="517.10" stroke="#111" stroke-width="0.8"/>
<line x1="476.30" y1="514.90" x2="476.30" y2="517.10" stroke="#111" stroke-width="0.8"/>
<line x1="491.38" y1="514.90" x2="491.38" y2="517.10" stroke="#111" stroke-width="0.8"/>
<line x1="506.45" y1="514.90" x2="506.45" y2="517.10" stroke="#111" stroke-width="0.8"/>
<line x1="521.52" y1="514.90" x2="521.52" y2="517.10" stroke="#111" stroke-width="0.8"/>
<line x1="536.60" y1="514.90" x2="536.60" y2="517.10" stroke="#111" stroke-width="0.8"/>
<line x1="551.67" y1="514.90" x2="551.67" y2="517.10" stroke="#111" stroke-width="0.8"/>
<line x1="566.75" y1="514.90" x2="566.75" y2="517.10" stroke="#111" stroke-width="0.8"/>
<line x1="581.83" y1="514.90" x2="581.83" y2="517.10" stroke="#111" stroke-width="0.8"/>
<line x1="596.90" y1="514.90" x2="596.90" y2="517.10" stroke="#111" stroke-width="0.8"/>
<line x1="611.97" y1="514.90" x2="611.97" y2="517.10" stroke="#111" stroke-width="0.8"/>
<line x1="627.05" y1="514.90" x2="627.05" y2="517.10" stroke="#111" stroke-width="0.8"/>
<line x1="642.12" y1="514.90" x2="642.12" y2="517.10" stroke="#111" stroke-width="0.8"/>
<line x1="657.20" y1="514.90" x2="657.20" y2="517.10" stroke="#111" stroke-width="0.8"/>
<text x="416.00" y="528.80" font-size="10.2" font-weight="normal" text-anchor="middle" fill="#111" >0</text>
<text x="446.15" y="528.80" font-size="10.2" font-weight="normal" text-anchor="middle" fill="#111" >12</text>
<text x="476.30" y="528.80" font-size="10.2" font-weight="normal" text-anchor="middle" fill="#111" >24</text>
<text x="506.45" y="528.80" font-size="10.2" font-weight="normal" text-anchor="middle" fill="#111" >36</text>
<text x="536.60" y="528.80" font-size="10.2" font-weight="normal" text-anchor="middle" fill="#111" >48</text>
<text x="566.75" y="528.80" font-size="10.2" font-weight="normal" text-anchor="middle" fill="#111" >60</text>
<text x="596.90" y="528.80" font-size="10.2" font-weight="normal" text-anchor="middle" fill="#111" >72</text>
<text x="627.05" y="528.80" font-size="10.2" font-weight="normal" text-anchor="middle" fill="#111" >84</text>
<text x="657.20" y="528.80" font-size="10.2" font-weight="normal" text-anchor="middle" fill="#111" >96</text>
<text x="535.60" y="546.90" font-size="10.2" font-weight="bold" text-anchor="middle" fill="#111" >Time (months)</text>
<text x="0" y="0" font-size="10.3" font-weight="bold" text-anchor="middle" fill="#111" transform="translate(371.0,446.20) rotate(-90)">Overall Survival (%)</text>
<text x="388.50" y="556.50" font-size="9" font-weight="normal" text-anchor="start" fill="#111" >Number at risk</text>
<rect x="376.6" y="569.50" width="8.2" height="2.6" fill="#9c0d33"/>
<rect x="376.6" y="585.30" width="8.2" height="2.6" fill="#12306f"/>
<text x="414.70" y="574.30" font-size="8.8" font-weight="normal" text-anchor="middle" fill="#9c0d33" stroke="#9c0d33" stroke-width="0.06">52</text>
<text x="414.70" y="590.10" font-size="8.8" font-weight="normal" text-anchor="middle" fill="#12306f" stroke="#12306f" stroke-width="0.06">17</text>
<text x="445.19" y="574.30" font-size="8.8" font-weight="normal" text-anchor="middle" fill="#9c0d33" stroke="#9c0d33" stroke-width="0.06">39</text>
<text x="445.19" y="590.10" font-size="8.8" font-weight="normal" text-anchor="middle" fill="#12306f" stroke="#12306f" stroke-width="0.06">11</text>
<text x="475.68" y="574.30" font-size="8.8" font-weight="normal" text-anchor="middle" fill="#9c0d33" stroke="#9c0d33" stroke-width="0.06">9</text>
<text x="475.68" y="590.10" font-size="8.8" font-weight="normal" text-anchor="middle" fill="#12306f" stroke="#12306f" stroke-width="0.06">5</text>
<text x="506.17" y="574.30" font-size="8.8" font-weight="normal" text-anchor="middle" fill="#9c0d33" stroke="#9c0d33" stroke-width="0.06">7</text>
<text x="506.17" y="590.10" font-size="8.8" font-weight="normal" text-anchor="middle" fill="#12306f" stroke="#12306f" stroke-width="0.06">4</text>
<text x="536.66" y="574.30" font-size="8.8" font-weight="normal" text-anchor="middle" fill="#9c0d33" stroke="#9c0d33" stroke-width="0.06">1</text>
<text x="536.66" y="590.10" font-size="8.8" font-weight="normal" text-anchor="middle" fill="#12306f" stroke="#12306f" stroke-width="0.06">3</text>
<text x="567.15" y="574.30" font-size="8.8" font-weight="normal" text-anchor="middle" fill="#9c0d33" stroke="#9c0d33" stroke-width="0.06">0</text>
<text x="567.15" y="590.10" font-size="8.8" font-weight="normal" text-anchor="middle" fill="#12306f" stroke="#12306f" stroke-width="0.06">2</text>
<text x="597.64" y="574.30" font-size="8.8" font-weight="normal" text-anchor="middle" fill="#9c0d33" stroke="#9c0d33" stroke-width="0.06">0</text>
<text x="597.64" y="590.10" font-size="8.8" font-weight="normal" text-anchor="middle" fill="#12306f" stroke="#12306f" stroke-width="0.06">2</text>
<text x="628.13" y="574.30" font-size="8.8" font-weight="normal" text-anchor="middle" fill="#9c0d33" stroke="#9c0d33" stroke-width="0.06">0</text>
<text x="628.13" y="590.10" font-size="8.8" font-weight="normal" text-anchor="middle" fill="#12306f" stroke="#12306f" stroke-width="0.06">0</text>
<text x="658.62" y="574.30" font-size="8.8" font-weight="normal" text-anchor="middle" fill="#9c0d33" stroke="#9c0d33" stroke-width="0.06">0</text>
<text x="658.62" y="590.10" font-size="8.8" font-weight="normal" text-anchor="middle" fill="#12306f" stroke="#12306f" stroke-width="0.06">0</text>
<path d="M432.40,681.00 L433.60,681.00 L433.60,682.70 L434.10,682.70 L434.10,687.10 L435.80,687.10 L435.80,690.40 L436.90,690.40 L436.90,697.10 L438.00,697.10 L438.00,704.90 L439.10,704.90 L439.10,713.80 L440.20,713.80 L440.20,718.20 L441.30,718.20 L441.30,722.70 L443.00,722.70 L443.00,727.10 L444.70,727.10 L444.70,732.70 L445.80,732.70 L445.80,740.40 L447.40,740.40 L447.40,748.20 L448.55,748.20 L448.55,751.55 L449.70,751.55 L449.70,754.90 L450.80,754.90 L450.80,757.40 L451.90,757.40 L451.90,759.90 L453.30,759.90 L453.30,762.65 L454.70,762.65 L454.70,765.40 L456.60,765.40 L456.60,766.50 L458.50,766.50 L458.50,767.60 L459.95,767.60 L459.95,768.45 L461.40,768.45 L461.40,769.30 L462.60,769.30 L462.60,776.40 L464.30,776.40 L464.30,781.00 L466.10,781.00 L466.10,790.40 L471.90,790.40 L471.90,791.50 L473.70,791.50 L473.70,795.00 L475.15,795.00 L475.15,797.95 L476.60,797.95 L476.60,800.90 L484.80,800.90 L484.80,801.50 L486.50,801.50 L486.50,803.80 L488.30,803.80 L488.30,806.70 L492.40,806.70 L492.40,807.90 L493.85,807.90 L493.85,808.75 L495.30,808.75 L495.30,809.60 L505.20,809.60 L505.20,810.00 L506.65,810.00 L506.65,811.00 L508.10,811.00 L508.10,812.00 L509.60,812.00 L509.60,813.45 L511.10,813.45 L511.10,814.90 L516.90,814.90 L516.90,815.50 L518.10,815.50 L518.10,816.70 L663.80,816.70 L663.80,818.00" fill="none" stroke="#9c0d33" stroke-width="1.5" stroke-linejoin="miter"/>
<path d="M416.30,681.00 L434.70,681.00 L436.30,681.00 L436.30,683.80 L437.40,683.80 L437.40,689.30 L438.00,689.30 L438.00,696.00 L439.10,696.00 L439.10,700.40 L439.70,700.40 L439.70,704.30 L440.80,704.30 L440.80,705.15 L441.90,705.15 L441.90,706.00 L443.00,706.00 L443.00,709.30 L444.10,709.30 L444.10,710.45 L445.20,710.45 L445.20,711.60 L446.30,711.60 L446.30,717.10 L447.40,717.10 L447.40,723.80 L448.60,723.80 L448.60,733.80 L450.20,733.80 L450.20,736.00 L451.30,736.00 L451.30,741.60 L452.40,741.60 L452.40,747.10 L453.60,747.10 L453.60,751.60 L454.95,751.60 L454.95,752.70 L456.30,752.70 L456.30,753.80 L458.60,753.80 L458.60,754.90 L459.70,754.90 L459.70,760.40 L461.40,760.40 L461.40,763.50 L462.60,763.50 L462.60,769.30 L466.10,769.30 L466.10,769.90 L466.70,769.90 L466.70,774.60 L469.60,774.60 L469.60,775.20 L470.20,775.20 L470.20,777.50 L473.10,777.50 L473.10,778.10 L474.90,778.10 L474.90,781.00 L476.60,781.00 L476.60,784.50 L478.40,784.50 L478.40,789.80 L484.20,789.80 L484.20,790.60 L485.40,790.60 L485.40,793.10 L491.80,793.10 L491.80,793.30 L492.40,793.30 L492.40,795.60 L504.60,795.60 L505.20,795.60 L505.20,798.50 L513.40,798.50 L514.60,798.50 L514.60,801.50 L516.30,801.50 L516.30,804.40 L517.50,804.40 L517.50,807.90 L521.60,807.90 L521.60,808.50 L522.20,808.50 L522.20,811.80 L652.00,811.80" fill="none" stroke="#12306f" stroke-width="1.5" stroke-linejoin="miter"/>
<line x1="599.00" y1="810.20" x2="599.00" y2="813.40" stroke="#12306f" stroke-width="0.7"/>
<line x1="652.00" y1="810.20" x2="652.00" y2="813.40" stroke="#12306f" stroke-width="0.7"/>
<line x1="404.00" y1="680.50" x2="404.00" y2="819.20" stroke="#111" stroke-width="1.6"/>
<line x1="403.20" y1="818.40" x2="669.80" y2="818.40" stroke="#111" stroke-width="1.6"/>
<line x1="401.50" y1="681.00" x2="404.00" y2="681.00" stroke="#111" stroke-width="0.8"/>
<line x1="402.20" y1="694.74" x2="404.00" y2="694.74" stroke="#111" stroke-width="0.8"/>
<line x1="401.50" y1="708.48" x2="404.00" y2="708.48" stroke="#111" stroke-width="0.8"/>
<line x1="402.20" y1="722.22" x2="404.00" y2="722.22" stroke="#111" stroke-width="0.8"/>
<line x1="401.50" y1="735.96" x2="404.00" y2="735.96" stroke="#111" stroke-width="0.8"/>
<line x1="402.20" y1="749.70" x2="404.00" y2="749.70" stroke="#111" stroke-width="0.8"/>
<line x1="401.50" y1="763.44" x2="404.00" y2="763.44" stroke="#111" stroke-width="0.8"/>
<line x1="402.20" y1="777.18" x2="404.00" y2="777.18" stroke="#111" stroke-width="0.8"/>
<line x1="401.50" y1="790.92" x2="404.00" y2="790.92" stroke="#111" stroke-width="0.8"/>
<line x1="402.20" y1="804.66" x2="404.00" y2="804.66" stroke="#111" stroke-width="0.8"/>
<line x1="401.50" y1="818.40" x2="404.00" y2="818.40" stroke="#111" stroke-width="0.8"/>
<text x="397.80" y="685.20" font-size="10.2" font-weight="normal" text-anchor="end" fill="#111" >100</text>
<text x="397.80" y="712.68" font-size="10.2" font-weight="normal" text-anchor="end" fill="#111" >80</text>
<text x="397.80" y="740.16" font-size="10.2" font-weight="normal" text-anchor="end" fill="#111" >60</text>
<text x="397.80" y="767.64" font-size="10.2" font-weight="normal" text-anchor="end" fill="#111" >40</text>
<text x="397.80" y="795.12" font-size="10.2" font-weight="normal" text-anchor="end" fill="#111" >20</text>
<text x="397.80" y="822.60" font-size="10.2" font-weight="normal" text-anchor="end" fill="#111" >0</text>
<line x1="416.10" y1="818.40" x2="416.10" y2="820.60" stroke="#111" stroke-width="0.8"/>
<line x1="431.28" y1="818.40" x2="431.28" y2="820.60" stroke="#111" stroke-width="0.8"/>
<line x1="446.46" y1="818.40" x2="446.46" y2="820.60" stroke="#111" stroke-width="0.8"/>
<line x1="461.64" y1="818.40" x2="461.64" y2="820.60" stroke="#111" stroke-width="0.8"/>
<line x1="476.82" y1="818.40" x2="476.82" y2="820.60" stroke="#111" stroke-width="0.8"/>
<line x1="492.00" y1="818.40" x2="492.00" y2="820.60" stroke="#111" stroke-width="0.8"/>
<line x1="507.18" y1="818.40" x2="507.18" y2="820.60" stroke="#111" stroke-width="0.8"/>
<line x1="522.36" y1="818.40" x2="522.36" y2="820.60" stroke="#111" stroke-width="0.8"/>
<line x1="537.54" y1="818.40" x2="537.54" y2="820.60" stroke="#111" stroke-width="0.8"/>
<line x1="552.72" y1="818.40" x2="552.72" y2="820.60" stroke="#111" stroke-width="0.8"/>
<line x1="567.90" y1="818.40" x2="567.90" y2="820.60" stroke="#111" stroke-width="0.8"/>
<line x1="583.08" y1="818.40" x2="583.08" y2="820.60" stroke="#111" stroke-width="0.8"/>
<line x1="598.26" y1="818.40" x2="598.26" y2="820.60" stroke="#111" stroke-width="0.8"/>
<line x1="613.44" y1="818.40" x2="613.44" y2="820.60" stroke="#111" stroke-width="0.8"/>
<line x1="628.62" y1="818.40" x2="628.62" y2="820.60" stroke="#111" stroke-width="0.8"/>
<line x1="643.80" y1="818.40" x2="643.80" y2="820.60" stroke="#111" stroke-width="0.8"/>
<line x1="658.98" y1="818.40" x2="658.98" y2="820.60" stroke="#111" stroke-width="0.8"/>
<text x="416.10" y="832.30" font-size="10.2" font-weight="normal" text-anchor="middle" fill="#111" >0</text>
<text x="446.46" y="832.30" font-size="10.2" font-weight="normal" text-anchor="middle" fill="#111" >12</text>
<text x="476.82" y="832.30" font-size="10.2" font-weight="normal" text-anchor="middle" fill="#111" >24</text>
<text x="507.18" y="832.30" font-size="10.2" font-weight="normal" text-anchor="middle" fill="#111" >36</text>
<text x="537.54" y="832.30" font-size="10.2" font-weight="normal" text-anchor="middle" fill="#111" >48</text>
<text x="567.90" y="832.30" font-size="10.2" font-weight="normal" text-anchor="middle" fill="#111" >60</text>
<text x="598.26" y="832.30" font-size="10.2" font-weight="normal" text-anchor="middle" fill="#111" >72</text>
<text x="628.62" y="832.30" font-size="10.2" font-weight="normal" text-anchor="middle" fill="#111" >84</text>
<text x="658.98" y="832.30" font-size="10.2" font-weight="normal" text-anchor="middle" fill="#111" >96</text>
<text x="536.60" y="850.40" font-size="10.2" font-weight="bold" text-anchor="middle" fill="#111" >Time (months)</text>
<text x="0" y="0" font-size="10.3" font-weight="bold" text-anchor="middle" fill="#111" transform="translate(371.0,749.60) rotate(-90)">Overall Survival (%)</text>
<text x="388.50" y="860.00" font-size="9" font-weight="normal" text-anchor="start" fill="#111" >Number at risk</text>
<rect x="376.6" y="873.00" width="8.2" height="2.6" fill="#9c0d33"/>
<rect x="376.6" y="888.80" width="8.2" height="2.6" fill="#12306f"/>
<text x="414.80" y="877.80" font-size="8.8" font-weight="normal" text-anchor="middle" fill="#9c0d33" stroke="#9c0d33" stroke-width="0.06">94</text>
<text x="414.80" y="893.60" font-size="8.8" font-weight="normal" text-anchor="middle" fill="#12306f" stroke="#12306f" stroke-width="0.06">58</text>
<text x="445.56" y="877.80" font-size="8.8" font-weight="normal" text-anchor="middle" fill="#9c0d33" stroke="#9c0d33" stroke-width="0.06">47</text>
<text x="445.56" y="893.60" font-size="8.8" font-weight="normal" text-anchor="middle" fill="#12306f" stroke="#12306f" stroke-width="0.06">38</text>
<text x="476.32" y="877.80" font-size="8.8" font-weight="normal" text-anchor="middle" fill="#9c0d33" stroke="#9c0d33" stroke-width="0.06">10</text>
<text x="476.32" y="893.60" font-size="8.8" font-weight="normal" text-anchor="middle" fill="#12306f" stroke="#12306f" stroke-width="0.06">12</text>
<text x="507.08" y="877.80" font-size="8.8" font-weight="normal" text-anchor="middle" fill="#9c0d33" stroke="#9c0d33" stroke-width="0.06">4</text>
<text x="507.08" y="893.60" font-size="8.8" font-weight="normal" text-anchor="middle" fill="#12306f" stroke="#12306f" stroke-width="0.06">6</text>
<text x="537.84" y="877.80" font-size="8.8" font-weight="normal" text-anchor="middle" fill="#9c0d33" stroke="#9c0d33" stroke-width="0.06">1</text>
<text x="537.84" y="893.60" font-size="8.8" font-weight="normal" text-anchor="middle" fill="#12306f" stroke="#12306f" stroke-width="0.06">2</text>
<text x="568.60" y="877.80" font-size="8.8" font-weight="normal" text-anchor="middle" fill="#9c0d33" stroke="#9c0d33" stroke-width="0.06">1</text>
<text x="568.60" y="893.60" font-size="8.8" font-weight="normal" text-anchor="middle" fill="#12306f" stroke="#12306f" stroke-width="0.06">2</text>
<text x="599.36" y="877.80" font-size="8.8" font-weight="normal" text-anchor="middle" fill="#9c0d33" stroke="#9c0d33" stroke-width="0.06">1</text>
<text x="599.36" y="893.60" font-size="8.8" font-weight="normal" text-anchor="middle" fill="#12306f" stroke="#12306f" stroke-width="0.06">2</text>
<text x="630.12" y="877.80" font-size="8.8" font-weight="normal" text-anchor="middle" fill="#9c0d33" stroke="#9c0d33" stroke-width="0.06">1</text>
<text x="630.12" y="893.60" font-size="8.8" font-weight="normal" text-anchor="middle" fill="#12306f" stroke="#12306f" stroke-width="0.06">1</text>
<text x="660.88" y="877.80" font-size="8.8" font-weight="normal" text-anchor="middle" fill="#9c0d33" stroke="#9c0d33" stroke-width="0.06">1</text>
<text x="660.88" y="893.60" font-size="8.8" font-weight="normal" text-anchor="middle" fill="#12306f" stroke="#12306f" stroke-width="0.06">0</text>
</svg>
</body></html>
